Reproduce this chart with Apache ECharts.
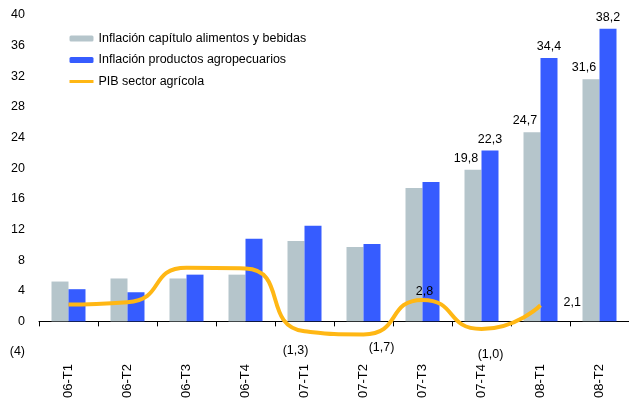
<!DOCTYPE html>
<html>
<head>
<meta charset="utf-8">
<script src="https://cdn.jsdelivr.net/npm/echarts@6/dist/echarts.min.js"></script>
<style>
  html, body { margin: 0; padding: 0; background: #fff; }
  #chart { width: 629px; height: 405px; }
</style>
</head>
<body>
<div id="chart"></div>
<script>
// datos
const categorias = ['06-T1', '06-T2', '06-T3', '06-T4', '07-T1', '07-T2', '07-T3', '07-T4', '08-T1', '08-T2']
const inflAlimentos = [5.2, 5.6, 5.6, 6.1, 10.5, 9.7, 17.4, 19.8, 24.7, 31.6]
const inflAgro = [4.2, 3.8, 6.1, 10.8, 12.5, 10.1, 18.2, 22.3, 34.4, 38.2]
const pibAgricola = [2.2, 2.5, 7.0, 6.9, -1.3, -1.7, 2.8, -1.0, 2.1, null]
const yTicks = { min: -4, max: 40, step: 4 }

const fuente = 'Liberation Sans'
const naranja = '#ffb714'

// formato con coma decimal y negativos entre parentesis
function fmt (v) {
  const s = Math.abs(v).toFixed(1).replace('.', ',')
  return v < 0 ? '(' + s + ')' : s
}

// donde va cada etiqueta del PIB
const etiquetasPib = {
  4: { position: 'bottom', offset: [-9, 8] },
  5: { position: 'bottom', offset: [18, 2] },
  6: { position: 'top', offset: [2, 3] },
  7: { position: 'bottom', offset: [9, 14] },
  8: { position: 'right', offset: [18, -3] }
}

const myChart = echarts.init(document.getElementById('chart'))

const option = {
  animation: false,
  textStyle: { fontFamily: fuente },
  grid: { left: 39, width: 596, top: 15, bottom: 53 },
  legend: {
    orient: 'vertical',
    left: 63,
    top: 27,
    itemWidth: 24,
    itemHeight: 6,
    itemGap: 8.5,
    textStyle: { fontFamily: fuente, fontSize: 12.5, color: '#000' },
    data: [
      'Inflación capítulo alimentos y bebidas',
      'Inflación productos agropecuarios',
      { name: 'PIB sector agrícola', itemStyle: { opacity: 0 }, lineStyle: { width: 3, color: naranja } }
    ]
  },
  xAxis: [
    {
      type: 'category',
      data: categorias,
      axisLine: { onZero: true, lineStyle: { color: '#000', width: 1 } },
      axisTick: { show: true, length: 5, interval: 0, lineStyle: { color: '#000' } },
      axisLabel: { show: false }
    },
    {
      type: 'category',
      data: categorias,
      position: 'bottom',
      axisLine: { show: false, onZero: false },
      axisTick: { show: false },
      axisLabel: { rotate: 90, margin: 12, interval: 0, fontSize: 13, color: '#000', fontFamily: fuente }
    }
  ],
  yAxis: {
    type: 'value',
    min: yTicks.min,
    max: yTicks.max,
    interval: yTicks.step,
    axisLine: { show: false },
    axisTick: { show: false },
    splitLine: { show: false },
    axisLabel: {
      margin: 14,
      fontSize: 12.5,
      color: '#000',
      fontFamily: fuente,
      formatter: v => (v < 0 ? '(' + (-v) + ')' : v)
    }
  },
  series: [
    {
      name: 'Inflación capítulo alimentos y bebidas',
      type: 'bar',
      barWidth: 17,
      barGap: '0%',
      itemStyle: { color: '#b5c5cb' },
      label: {
        show: true,
        position: 'top',
        offset: [-7, 0],
        fontSize: 12.5,
        color: '#000',
        formatter: p => (p.dataIndex >= 7 ? fmt(p.value) : '')
      },
      data: inflAlimentos
    },
    {
      name: 'Inflación productos agropecuarios',
      type: 'bar',
      barWidth: 17,
      itemStyle: { color: '#365cff' },
      label: {
        show: true,
        position: 'top',
        fontSize: 12.5,
        color: '#000',
        formatter: p => (p.dataIndex >= 7 ? fmt(p.value) : '')
      },
      data: inflAgro
    },
    {
      name: 'PIB sector agrícola',
      type: 'line',
      smooth: 0.6,
      symbol: 'none',
      lineStyle: { color: naranja, width: 4 },
      itemStyle: { color: naranja },
      z: 5,
      data: pibAgricola
    },
    {
      // solo para las etiquetas del PIB
      type: 'scatter',
      symbolSize: 0,
      itemStyle: { color: naranja, opacity: 1 },
      silent: true,
      z: 6,
      label: { show: true, fontSize: 12.5, color: '#000', formatter: p => fmt(p.value) },
      data: pibAgricola.map((v, i) => (etiquetasPib[i] ? { value: v, label: etiquetasPib[i] } : '-'))
    }
  ]
}

myChart.setOption(option)
</script>
</body>
</html>
